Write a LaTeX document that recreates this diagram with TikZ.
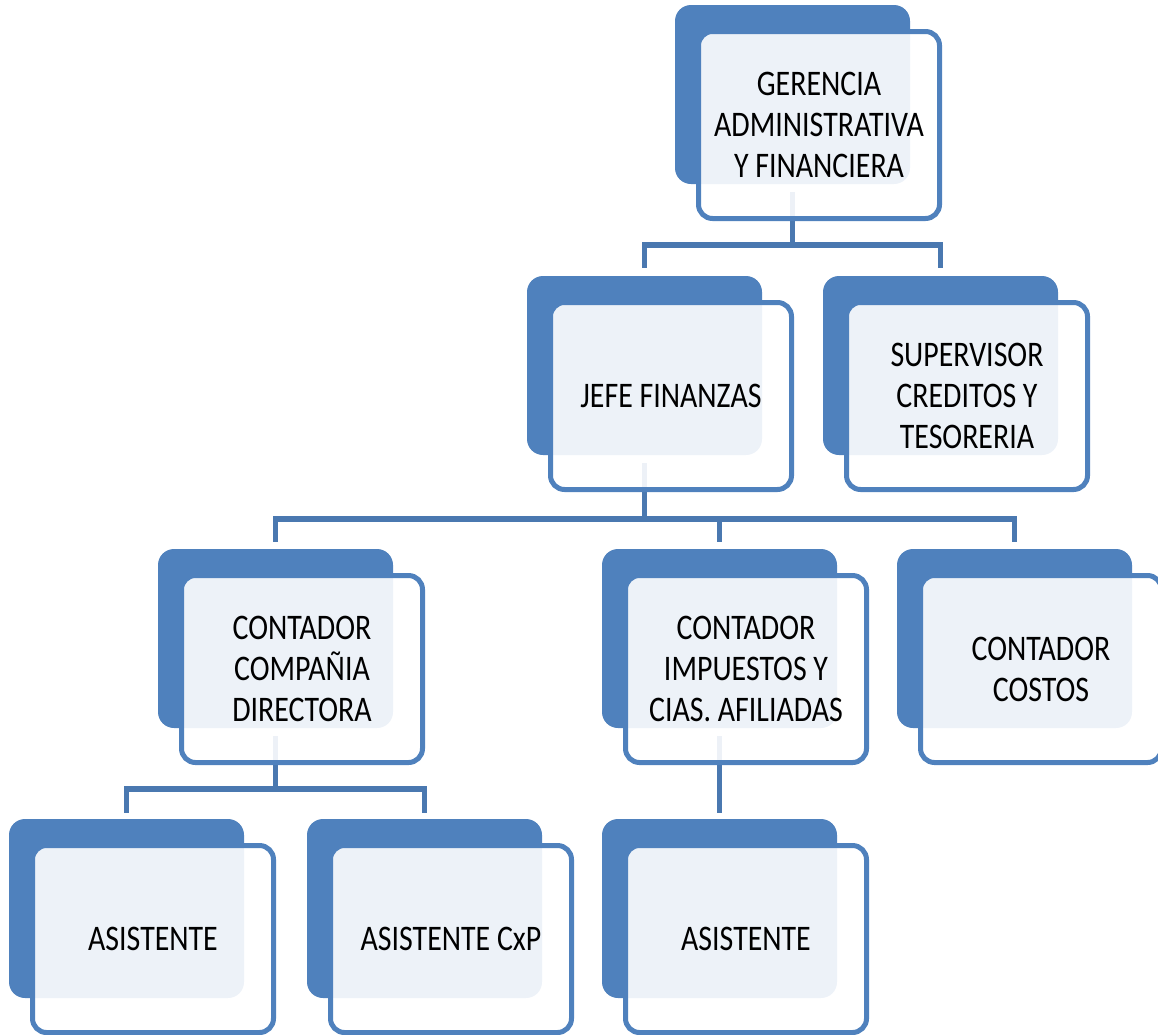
\documentclass[tikz,border=0pt]{standalone}
\usepackage{fontspec}
\setmainfont{Carlito}[FakeStretch=0.83]
\usetikzlibrary{positioning}
\definecolor{azul}{HTML}{4F81BD}
\definecolor{linea}{HTML}{4A78B0}
\tikzset{back/.style={fill=azul,rounded corners=16pt,minimum width=235pt,minimum height=179pt,inner sep=0pt}}
\tikzset{front/.style={draw=azul,line width=5pt,fill=white,fill opacity=0.9,text opacity=1,rounded corners=14pt,minimum width=241pt,minimum height=187pt,inner sep=0pt,align=center,font=\fontsize{36}{41}\selectfont}}
\tikzset{conn/.style={draw=linea,line width=5.5pt}}

\begin{document}
\begin{tikzpicture}[x=1pt,y=-1pt]
\useasboundingbox (0,0) rectangle (1158,1034);
\clip (0,0) rectangle (1158,1034);
\begin{scope}[on grid]
\node[back] (gerB) at (792.5,94.5) {};
\node[back] (jefB) at (644.5,365.5) {};
\node[back] (supB) at (940.5,365.5) {};
\node[back] (ccoB) at (275.5,638.5) {};
\node[back] (cimB) at (719.5,638.5) {};
\node[back] (cosB) at (1014.5,638.5) {};
\node[back] (as1B) at (126.5,908.5) {};
\node[back] (axpB) at (424.5,908.5) {};
\node[back] (as2B) at (719.5,908.5) {};

\coordinate (bus1) at (gerB.south |- 0,245);
\coordinate (bus2) at (jefB.south |- 0,519);
\coordinate (bus3) at (ccoB.south |- 0,789);
\draw[conn] ([yshift=-8pt]gerB.south) -- (bus1) -| ([yshift=8pt]jefB.north)
  (bus1) -| ([yshift=8pt]supB.north);
\draw[conn] ([yshift=-8pt]jefB.south) -- (bus2) -| ([yshift=7pt]ccoB.north)
  (bus2) -| ([yshift=7pt]cimB.north) (bus2) -| ([yshift=7pt]cosB.north);
\draw[conn] ([yshift=-8pt]ccoB.south) -- (bus3) -| ([yshift=6pt]as1B.north)
  (bus3) -| ([yshift=6pt]axpB.north);
\draw[conn] ([yshift=-8pt]cimB.south) -- ([yshift=6pt]as2B.north);

\node[front, below right=30.5pt and 26.5pt of gerB] (ger) {GERENCIA\\ADMINISTRATIVA\\Y FINANCIERA};
\node[front, below right=30.5pt and 26.5pt of jefB] (jef) {JEFE FINANZAS};
\node[front, below right=30.5pt and 26.5pt of supB] (sup) {SUPERVISOR\\CREDITOS Y\\TESORERIA};
\node[front, below right=30.5pt and 26.5pt of ccoB] (cco) {CONTADOR\\COMPAÑIA\\DIRECTORA};
\node[front, below right=30.5pt and 26.5pt of cimB] (cim) {CONTADOR\\IMPUESTOS Y\\CIAS. AFILIADAS};
\node[front, below right=30.5pt and 26.5pt of cosB] (cos) {CONTADOR\\COSTOS};
\node[front, below right=30.5pt and 26.5pt of as1B] (as1) {ASISTENTE};
\node[front, below right=30.5pt and 26.5pt of axpB] (axp) {ASISTENTE CxP};
\node[front, below right=30.5pt and 26.5pt of as2B] (as2) {ASISTENTE};
\end{scope}
\end{tikzpicture}
\end{document}
